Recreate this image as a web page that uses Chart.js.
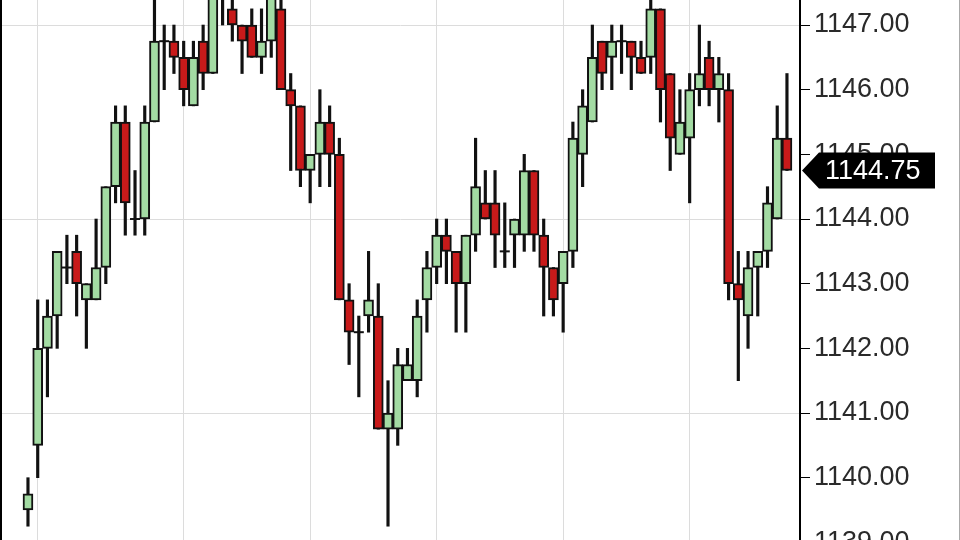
<!DOCTYPE html>
<html>
<head>
<meta charset="utf-8">
<script src="https://cdn.jsdelivr.net/npm/chart.js@4/dist/chart.umd.min.js"></script>
<style>
html, body { margin:0; padding:0; background:#fff; overflow:hidden; }
#wrap { position:absolute; left:0; top:0; width:957px; height:580px; border-left:2px solid #000; border-right:1px solid #aaa; }
</style>
</head>
<body>
<div id="wrap"><canvas id="c"></canvas></div>
<script>
// OHLC per bar (0.25 steps)
const opens  = [1139.5,1140.5,1142.0,1142.5,1143.25,1143.5,1142.75,1142.75,1143.25,1144.5,
                1145.5,1144.0,1144.0,1145.5,1146.75,1146.75,1146.5,1145.75,1146.75,1146.25,
                1147.5,1147.25,1147.0,1147.0,1146.5,1146.75,1147.25,1146.0,1145.75,1144.75,
                1145.0,1145.5,1145.0,1142.75,1142.25,1142.5,1142.5,1140.75,1140.75,1141.5,
                1141.5,1142.75,1143.25,1143.75,1143.5,1143.0,1143.75,1144.25,1144.25,1143.5,
                1143.75,1143.75,1144.75,1143.75,1143.25,1143.0,1143.5,1145.0,1145.5,1146.75,
                1146.5,1146.75,1146.75,1146.5,1146.5,1147.25,1146.25,1145.0,1145.25,1146.0,
                1146.5,1146.0,1146.0,1143.0,1142.5,1143.25,1143.5,1144.0,1145.25];
const highs  = [1140.0,1142.75,1142.75,1143.5,1143.75,1143.75,1143.0,1144.0,1144.5,1145.75,
                1145.75,1144.75,1145.75,1147.6,1147.0,1147.0,1146.75,1146.75,1147.0,1147.75,
                1148.0,1147.5,1147.0,1147.25,1147.25,1147.75,1147.5,1146.25,1145.75,1145.0,
                1146.0,1145.75,1145.25,1143.0,1142.5,1143.5,1143.0,1141.5,1142.0,1142.0,
                1142.75,1143.5,1144.0,1144.0,1143.5,1143.75,1145.25,1144.75,1144.75,1144.25,
                1144.0,1145.0,1144.75,1144.0,1143.25,1143.5,1145.5,1146.0,1147.0,1146.75,
                1147.0,1147.0,1146.75,1146.75,1147.5,1147.25,1146.25,1146.0,1146.25,1147.0,
                1146.75,1146.5,1146.25,1143.5,1143.5,1143.5,1144.5,1145.75,1146.25];
const lows   = [1139.25,1140.0,1141.25,1142.0,1143.0,1142.5,1142.0,1142.75,1143.0,1144.25,
                1143.75,1143.75,1143.75,1145.5,1146.0,1146.25,1145.75,1145.75,1146.0,1146.25,
                1147.0,1146.75,1146.25,1146.5,1146.25,1146.5,1146.0,1144.75,1144.5,1144.25,
                1144.5,1144.5,1142.75,1141.75,1141.25,1142.25,1140.75,1139.25,1140.5,1141.5,
                1141.25,1142.25,1143.0,1143.0,1142.25,1142.25,1143.5,1144.0,1143.25,1143.25,
                1143.25,1143.5,1143.5,1142.5,1142.5,1142.25,1143.25,1144.5,1145.5,1146.0,
                1146.0,1146.25,1146.0,1146.25,1146.25,1145.5,1144.75,1145.0,1144.25,1145.75,
                1145.75,1145.5,1142.75,1141.5,1142.0,1142.5,1143.25,1144.0,1144.75];
const closes = [1139.75,1142.0,1142.5,1143.5,1143.25,1143.0,1143.0,1143.25,1144.5,1145.5,
                1144.25,1144.0,1145.5,1146.75,1146.75,1146.5,1146.0,1146.5,1146.25,1147.5,
                1147.75,1147.0,1146.75,1146.5,1146.75,1147.5,1146.0,1145.75,1144.75,1145.0,
                1145.5,1145.0,1142.75,1142.25,1142.25,1142.75,1140.75,1141.0,1141.75,1141.75,
                1142.5,1143.25,1143.75,1143.5,1143.0,1143.75,1144.5,1144.0,1143.75,1143.5,
                1144.0,1144.75,1143.75,1143.25,1142.75,1143.5,1145.25,1145.75,1146.5,1146.25,
                1146.75,1146.75,1146.5,1146.25,1147.25,1146.0,1145.25,1145.5,1146.0,1146.25,
                1146.0,1146.25,1143.0,1142.75,1143.25,1143.5,1144.25,1145.25,1144.75];
// bars where the vertical time grid lines fall
const gridBars = [1, 16, 29, 42, 55, 68];

const UP = '#a3dba3', DOWN = '#c81a1a', INK = '#111';

const wickData = opens.map((o, i) => ({x: i, y: [lows[i], highs[i]]}));
const bodyData = [], bodyColors = [], dojiData = [];
opens.forEach((o, i) => {
  if (o === closes[i]) { dojiData.push({x: i, y: o}); return; }
  bodyData.push({x: i, y: [o, closes[i]]});
  bodyColors.push(closes[i] > o ? UP : DOWN);
});

// black price flag for the last close on the axis
const lastPrice = {
  id: 'lastPrice',
  afterDraw(chart) {
    const c = chart.ctx, ys = chart.scales.y;
    const v = closes[closes.length - 1];
    const y = ys.getPixelForValue(v), x = chart.chartArea.right + 2;
    c.save();
    c.fillStyle = '#000';
    c.beginPath();
    c.moveTo(x, y);
    c.lineTo(x + 17, y - 18);
    c.lineTo(x + 133, y - 18);
    c.lineTo(x + 133, y + 18);
    c.lineTo(x + 17, y + 18);
    c.closePath();
    c.fill();
    c.fillStyle = '#fff';
    c.font = '27px Arial, "Liberation Sans", sans-serif';
    c.textBaseline = 'middle';
    c.fillText(v.toFixed(2), x + 23, y + 1);
    c.restore();
  }
};

new Chart(document.getElementById('c').getContext('2d'), {
  type: 'bar',
  data: {
    datasets: [
      {type: 'bar', label: 'wick', data: wickData, backgroundColor: INK, barThickness: 2.5, grouped: false, order: 3},
      {type: 'bar', label: 'body', data: bodyData, backgroundColor: bodyColors, borderColor: INK,
       borderWidth: 2, borderSkipped: false, barThickness: 10, grouped: false, order: 2},
      {type: 'line', label: 'doji', data: dojiData, showLine: false, pointStyle: 'line',
       pointRadius: 5, borderColor: INK, borderWidth: 2, order: 1}
    ]
  },
  options: {
    responsive: true,
    maintainAspectRatio: false,
    animation: false,
    layout: {padding: 0, autoPadding: false},
    plugins: {legend: {display: false}, tooltip: {enabled: false}},
    scales: {
      x: {
        type: 'linear', min: -2.67, max: 79.34, offset: false,
        grid: {color: '#dcdcdc', drawTicks: false, offset: false},
        ticks: {display: false},
        border: {display: false},
        afterBuildTicks: s => { s.ticks = gridBars.map(v => ({value: v})); },
        afterFit: s => { s.height = 0; s.paddingLeft = 0; s.paddingRight = 0; }
      },
      y: {
        position: 'right', min: 1138.418, max: 1147.387,
        ticks: {stepSize: 1, includeBounds: false, padding: 4, color: '#2a2a2a',
                font: {family: 'Arial, "Liberation Sans", sans-serif', size: 27},
                callback: v => v.toFixed(2)},
        grid: {
          color: ctx => (ctx.tick && Math.round(ctx.tick.value - 1138) % 3 === 0) ? '#dcdcdc' : 'rgba(0,0,0,0)',
          tickColor: '#000', tickLength: 10, lineWidth: 1
        },
        border: {color: '#000', width: 2},
        afterFit: s => { s.width = 159; s.paddingTop = 0; s.paddingBottom = 0; }
      }
    }
  },
  plugins: [lastPrice]
});
</script>
</body>
</html>
